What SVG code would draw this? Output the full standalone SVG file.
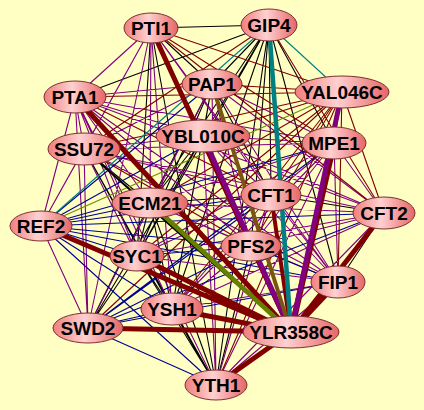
<svg xmlns="http://www.w3.org/2000/svg" width="424" height="410" viewBox="0 0 424 410">
<defs>
<linearGradient id="g" x1="0" y1="0" x2="1" y2="0">
<stop offset="0" stop-color="#f07e7e"/>
<stop offset="0.45" stop-color="#ffd0d0"/>
<stop offset="1" stop-color="#e66666"/>
</linearGradient>
<style>
.e path{fill:none;stroke-linecap:round}
.k{stroke:#000;stroke-width:1.1}
.p{stroke:#800080;stroke-width:1.1}
.r{stroke:#800000;stroke-width:1.1}
.b{stroke:#000090;stroke-width:1.1}
.t{stroke:#008080;stroke-width:1.1}
.o{stroke:#6b8e00;stroke-width:1.1}
.R{stroke:#800000;stroke-width:5}
.P{stroke:#800080;stroke-width:5}
.T{stroke:#008080;stroke-width:4.5}
.B{stroke:#7a5510;stroke-width:4}
.O{stroke:#667f00;stroke-width:4.5}
.K{stroke:#000;stroke-width:2}
.n ellipse{fill:url(#g);stroke:#7a3030;stroke-width:1}
.n text{font-family:"Liberation Sans",Arial,sans-serif;font-weight:bold;font-size:19px;text-anchor:middle;fill:#000}
</style>
</defs>
<rect width="424" height="410" fill="#ffffc4"/>
<g id="edges" class="e">
<path class="k" d="M151 28L269 25M151 28L212 84M151 28L137 256M151 28L216 385M269 25L75 97M269 25L212 84M269 25L203 136M269 25L334 143M269 25L150 203M269 25L271 195M269 25L137 256M269 25L251 246M269 25L338 282M269 25L172 309M269 25L216 385M212 84L203 136M212 84L150 203M212 84L271 195M212 84L137 256M212 84L172 309M84 149L150 203M84 149L172 309M84 149L216 385M203 136L150 203M203 136L137 256M203 136L172 309M203 136L88 328M150 203L271 195M150 203L137 256M150 203L172 309M150 203L88 328M150 203L216 385M271 195L384 213M384 213L338 282M137 256L172 309M137 256L88 328M137 256L216 385M251 246L216 385M172 309L216 385"/>
<path class="p" d="M151 28L75 97M151 28L84 149M151 28L203 136M151 28L150 203M151 28L271 195M151 28L41 226M151 28L251 246M151 28L338 282M151 28L172 309M151 28L88 328M75 97L212 84M75 97L84 149M75 97L203 136M75 97L334 143M75 97L150 203M75 97L384 213M75 97L41 226M75 97L137 256M75 97L251 246M75 97L338 282M75 97L172 309M75 97L88 328M75 97L216 385M212 84L84 149M212 84L334 143M212 84L384 213M212 84L251 246M212 84L338 282M212 84L88 328M212 84L216 385M84 149L203 136M84 149L334 143M84 149L271 195M84 149L384 213M84 149L41 226M84 149L137 256M84 149L338 282M84 149L88 328M203 136L334 143M203 136L271 195M203 136L384 213M203 136L251 246M203 136L338 282M203 136L216 385M334 143L150 203M334 143L271 195M334 143L384 213M334 143L137 256M334 143L251 246M334 143L338 282M334 143L172 309M334 143L216 385M150 203L384 213M150 203L251 246M150 203L338 282M271 195L137 256M271 195L251 246M271 195L338 282M271 195L172 309M271 195L216 385M384 213L137 256M384 213L251 246M384 213L172 309M384 213L216 385M41 226L88 328M137 256L338 282M251 246L172 309M338 282L172 309M338 282L216 385"/>
<path class="r" d="M151 28L342 92M151 28L334 143M151 28L384 213M269 25L84 149M269 25L384 213M75 97L342 92M75 97L271 195M212 84L342 92M342 92L84 149M342 92L203 136M342 92L334 143M342 92L150 203M342 92L271 195M342 92L384 213M342 92L137 256M342 92L251 246M342 92L338 282M342 92L172 309M342 92L88 328M342 92L216 385M84 149L251 246"/>
<path class="b" d="M212 84L41 226M203 136L41 226M334 143L41 226M334 143L88 328M150 203L41 226M271 195L41 226M271 195L88 328M384 213L41 226M384 213L88 328M41 226L137 256M41 226L251 246M41 226L338 282M41 226L172 309M41 226L216 385M137 256L251 246M251 246L338 282M251 246L88 328M338 282L88 328M172 309L88 328M88 328L216 385"/>
<path class="t" d="M269 25L342 92M269 25L41 226"/>
<path class="o" d="M342 92L41 226"/>
<path class="K" d="M84 149L291 332"/>
<path class="R" d="M151 28L291 332M75 97L291 332M384 213L291 332M41 226L291 332M137 256L291 332M338 282L291 332M172 309L291 332M88 328L291 332M216 385L291 332"/>
<path class="R" style="stroke-width:4" d="M271 195L291 332M251 246L291 332"/>
<path class="R" style="stroke-width:6" d="M334 143L291 332"/>
<path class="P" d="M342 92L291 332M203 136L291 332"/>
<path class="B" d="M212 84L291 332"/>
<path class="O" d="M150 203L291 332"/>
<path class="T" d="M269 25L291 332"/>
</g>
<g id="PTI1" class="n"><ellipse cx="151" cy="28" rx="27" ry="15"/><text x="151" y="35">PTI1</text></g>
<g id="GIP4" class="n"><ellipse cx="269" cy="25" rx="28" ry="16"/><text x="269" y="32">GIP4</text></g>
<g id="PTA1" class="n"><ellipse cx="75" cy="97" rx="31" ry="16"/><text x="75" y="104">PTA1</text></g>
<g id="PAP1" class="n"><ellipse cx="212" cy="84" rx="30" ry="15"/><text x="212" y="91">PAP1</text></g>
<g id="YAL046C" class="n"><ellipse cx="342" cy="92" rx="47" ry="16"/><text x="342" y="99">YAL046C</text></g>
<g id="SSU72" class="n"><ellipse cx="84" cy="149" rx="36" ry="16"/><text x="84" y="156">SSU72</text></g>
<g id="YBL010C" class="n"><ellipse cx="203" cy="136" rx="47" ry="16"/><text x="203" y="143">YBL010C</text></g>
<g id="MPE1" class="n"><ellipse cx="334" cy="143" rx="32" ry="16"/><text x="334" y="150">MPE1</text></g>
<g id="ECM21" class="n"><ellipse cx="150" cy="203" rx="38" ry="15"/><text x="150" y="210">ECM21</text></g>
<g id="CFT1" class="n"><ellipse cx="271" cy="195" rx="30" ry="16"/><text x="271" y="202">CFT1</text></g>
<g id="CFT2" class="n"><ellipse cx="384" cy="213" rx="31" ry="16"/><text x="384" y="220">CFT2</text></g>
<g id="REF2" class="n"><ellipse cx="41" cy="226" rx="31" ry="15"/><text x="41" y="233">REF2</text></g>
<g id="SYC1" class="n"><ellipse cx="137" cy="256" rx="27" ry="15"/><text x="137" y="263">SYC1</text></g>
<g id="PFS2" class="n"><ellipse cx="251" cy="246" rx="30" ry="15"/><text x="251" y="253">PFS2</text></g>
<g id="FIP1" class="n"><ellipse cx="338" cy="282" rx="27" ry="16"/><text x="338" y="289">FIP1</text></g>
<g id="YSH1" class="n"><ellipse cx="172" cy="309" rx="31" ry="16"/><text x="172" y="316">YSH1</text></g>
<g id="SWD2" class="n"><ellipse cx="88" cy="328" rx="35" ry="15"/><text x="88" y="335">SWD2</text></g>
<g id="YLR358C" class="n"><ellipse cx="291" cy="332" rx="48" ry="16"/><text x="291" y="339">YLR358C</text></g>
<g id="YTH1" class="n"><ellipse cx="216" cy="385" rx="31" ry="15"/><text x="216" y="392">YTH1</text></g>
</svg>
